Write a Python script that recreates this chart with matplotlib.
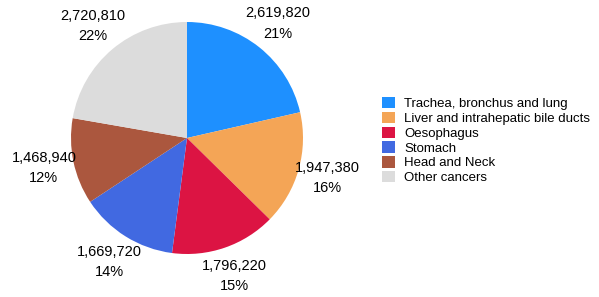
import matplotlib.pyplot as plt
import numpy as np

plt.rcParams['font.family'] = ['Liberation Sans', 'DejaVu Sans']

categories = ['Trachea, bronchus and lung', 'Liver and intrahepatic bile ducts',
              'Oesophagus', 'Stomach', 'Head and Neck', 'Other cancers']
deaths = [2619820, 1947380, 1796220, 1669720, 1468940, 2720810]
colors = ['#1E90FF', '#F4A556', '#DC1443', '#4169E1', '#AB573E', '#DCDCDC']

W, H = 599, 297
fig = plt.figure(figsize=(W / 100, H / 100), dpi=100)
cx, cy, r = 187, 138, 116
ax = fig.add_axes([(cx - r) / W, (H - cy - r) / H, 2 * r / W, 2 * r / H])

wedges, _ = ax.pie(deaths, colors=colors, startangle=90, counterclock=False,
                   radius=1, wedgeprops=dict(linewidth=0, zorder=3))
ax.set_xlim(-1, 1)
ax.set_ylim(-1, 1)
ax.set_aspect('equal')
ax.axis('off')

# value + percent labels, centred just outside each slice
total = sum(deaths)
cum = 0
for v in deaths:
    mid = (cum + v / 2) / total * 2 * np.pi
    cum += v
    x = 1.26 * np.sin(mid)
    y = 1.26 * np.cos(mid)
    pct = round(v / total * 100)
    ax.text(x, y, f'{v:,}\n{pct}%', ha='center', va='center', fontsize=10.5,
            linespacing=1.6, clip_on=False, zorder=5)

leg = fig.legend(wedges, categories, loc='upper left',
                 bbox_to_anchor=(382 / W, 1 - 97 / H), frameon=False,
                 fontsize=9.5, handlelength=0.95, handleheight=0.95,
                 handletextpad=0.75, labelspacing=0.12, borderpad=0,
                 borderaxespad=0)

fig.savefig('out.png', dpi=100)
